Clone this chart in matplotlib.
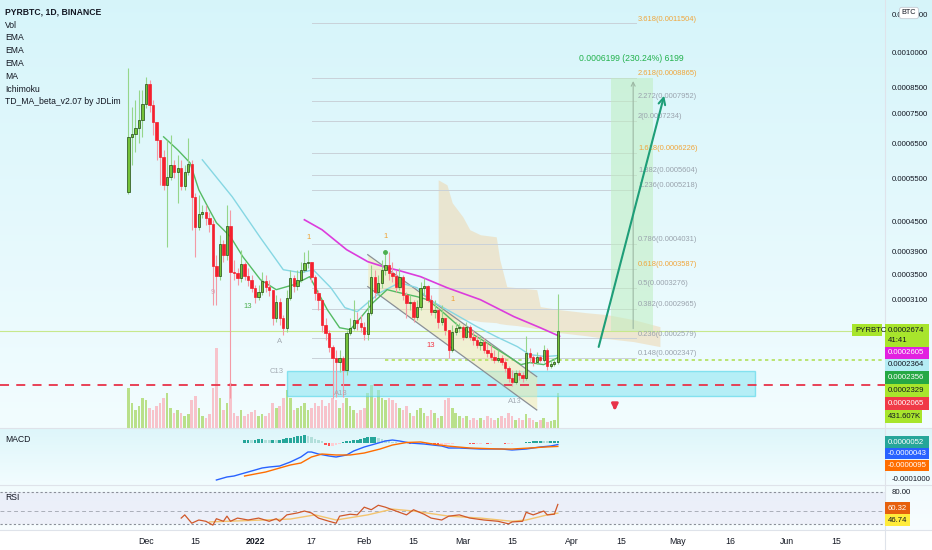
"""PYRBTC 1D (Binance) chart in a TradingView-like style, saved as out.png."""

import numpy as np
import matplotlib

matplotlib.use("Agg")
import matplotlib.pyplot as plt
from matplotlib.lines import Line2D
from matplotlib.patches import Rectangle

plt.rcParams["font.family"] = ["Liberation Sans", "DejaVu Sans"]

W, H = 932, 550
SCALE = 1e-7  # prices and indicator values below are in units of 1e-7 BTC

# ---------------------------------------------------------------- candles
# one candle per day, day 0 = 1 Dec 2021, first candle 26 Nov 2021
first_day = -5
first_open = 5173
closes = [
    6714, 6810, 7006, 7277, 7851, 8632, 7814, 7209, 6619, 6106,
    5347, 5554, 5879, 5687, 5795, 5322, 5687, 5907, 5051, 4381,
    4660, 4704, 4572, 4444, 3642, 3474, 4042, 3837, 4402, 3539,
    3523, 3440, 3676, 3474, 3408, 3281, 3144, 3219, 3392, 3297,
    3250, 2846, 3070, 2846, 2713, 3128, 3440, 3312, 3408, 3573,
    3694, 3712, 3457, 3204, 3099, 2753, 2650, 2480, 2354, 2310,
    2354, 2224, 2650, 2713, 2819, 2779, 2727, 2637, 2914, 3457,
    3219, 3360, 3573, 3659, 3523, 3474, 3297, 3457, 3174, 3056,
    3070, 2860, 2999, 3281, 3312, 3099, 2928, 2956, 2793, 2846,
    2688, 2445, 2663, 2713, 2727, 2600, 2727, 2600, 2564, 2504,
    2540, 2445, 2411, 2366, 2332, 2354, 2310, 2245, 2141, 2101,
    2193, 2172, 2141, 2411, 2366, 2310, 2366, 2332, 2445, 2266,
    2288, 2310, 2674,
]
highs = [
    9313, 7740, 8001, 8390, 8390, 8924, 8798, 8001, 7209, 6619,
    6312, 6619, 6778, 6020, 6164, 6020, 5879, 6682, 6020, 5147,
    5099, 4863, 4863, 4704, 4529, 3837, 4218, 4120, 4863, 4749,
    3747, 3607, 3929, 3712, 3607, 3490, 3328, 3328, 3539, 3490,
    3408, 3250, 3174, 3128, 2887, 3250, 3573, 3490, 3573, 3712,
    3892, 3929, 3712, 3490, 3250, 3099, 2846, 2688, 2504, 2445,
    2445, 2377, 2688, 2846, 3099, 2928, 2887, 2793, 3099, 3659,
    3573, 3490, 3747, 3892, 3892, 3712, 3573, 3607, 3490, 3219,
    3174, 3099, 3099, 3376, 3440, 3328, 3174, 3099, 2984, 3027,
    2846, 2688, 2753, 2793, 2779, 2753, 2793, 2753, 2688, 2625,
    2625, 2588, 2528, 2504, 2445, 2445, 2388, 2354, 2266, 2224,
    2224, 2224, 2203, 2613, 2468, 2388, 2422, 2388, 2504, 2468,
    2332, 2354, 3189,
]
lows = [
    5123, 5879, 6253, 6525, 6714, 7703, 7559, 6778, 6020, 5347,
    5222, 3985, 5475, 5527, 4909, 5222, 5222, 5607, 4320, 3801,
    4320, 4572, 4423, 4279, 3027, 3027, 3408, 3712, 3747, 1947,
    3408, 3328, 3376, 3408, 3312, 3219, 3056, 3099, 3174, 3219,
    3159, 2753, 2793, 2753, 2625, 2663, 3099, 3219, 3250, 3376,
    3539, 3607, 3376, 3099, 2956, 2663, 2564, 2422, 1947, 1956,
    2203, 1956, 2172, 2625, 2688, 2688, 2663, 2564, 2564, 2887,
    3128, 3174, 3281, 3490, 3408, 3376, 3219, 3250, 3099, 2846,
    2956, 2793, 2819, 2956, 3174, 3070, 2887, 2846, 2713, 2753,
    2625, 2354, 2422, 2625, 2663, 2564, 2588, 2564, 2504, 2468,
    2445, 2411, 2366, 2332, 2299, 2310, 2277, 2203, 2101, 2061,
    2081, 2121, 2101, 2121, 2310, 2266, 2288, 2310, 2310, 2224,
    2245, 2266, 2288,
]
volume_k = [
    496, 310, 223, 273, 372, 347, 248, 223, 273, 310,
    372, 434, 248, 186, 223, 186, 149, 174, 347, 397,
    248, 149, 124, 174, 496, 992, 372, 223, 310, 558,
    186, 149, 223, 149, 174, 198, 223, 149, 174, 149,
    186, 310, 248, 273, 372, 471, 372, 223, 248, 273,
    310, 223, 248, 310, 273, 347, 273, 310, 372, 347,
    248, 310, 372, 273, 223, 186, 223, 248, 434, 533,
    372, 471, 372, 347, 372, 347, 310, 248, 223, 273,
    186, 149, 223, 248, 186, 149, 223, 186, 124, 149,
    347, 372, 248, 186, 149, 124, 149, 99, 124, 99,
    124, 99, 149, 124, 99, 124, 149, 124, 186, 149,
    99, 124, 99, 174, 124, 99, 74, 99, 124, 74,
    87, 99, 432,
]

# ---------------------------------------------------------------- overlays
td_ma_days = [5, 9, 12.5, 15, 18, 20, 24, 27.5, 32.5, 37, 42, 46.5, 51.5, 55, 58,
              61, 64.5, 68.5, 72, 77, 80, 84.5, 89, 94, 98.5, 103.5, 106.5, 109, 113, 117]
td_ma_vals = [6714, 6312, 5935, 5222, 4749, 4466, 4178, 3801, 3408, 3250, 3328, 3457, 2956, 2713, 2688,
              2846, 3056, 3250, 3204, 3144, 3099, 2914, 2727, 2600, 2480, 2354, 2277, 2299, 2277, 2354]
ema_days = [16, 24.5, 32.5, 39, 44, 47.5, 52.5, 56.5, 60, 63, 66.5, 72, 77, 80.5,
            86.5, 94, 99.5, 105.5, 109, 113.5, 117]
ema_vals = [6020, 5051, 4159, 3573, 3523, 3573, 3281, 2984, 2928, 3056, 3204, 3360, 3281, 3099,
            2928, 2727, 2600, 2480, 2388, 2366, 2377]
ma_days = [45, 50, 53.5, 57, 63, 67.5, 72, 78, 85.5, 95, 104.5, 112, 117.5]
ma_vals = [4529, 4320, 4120, 3929, 3712, 3624, 3557, 3457, 3281, 3099, 2860, 2713, 2605]

channel_days = [63, 111]
channel_top = [3837, 2151]
channel_bottom = [3297, 1836]

cloud_days = [83, 85.5, 87, 90, 92, 95, 99.5, 100.5, 102.5, 105.5, 111, 112, 117.5, 125, 131, 138.5, 146]
cloud_top = [5475, 5347, 4909, 4594, 4320, 4218, 4178, 3747, 3297, 3281, 3250, 2999, 2956, 2914,
             2887, 2819, 2727]
cloud_bottom = [2846, 2832, 2832, 2819, 2819, 2793, 2779, 2766, 2753, 2740, 2701, 2701, 2650, 2612,
                2576, 2540, 2480]

fib_ratios = ["0.148", "0.236", "0.382", "0.5", "0.618", "0.786", "1.236", "1.382",
              "1.618", "2", "2.272", "2.618", "3.618"]
fib_prices = [2347, 2579, 2965, 3276, 3587, 4031, 5218, 5604, 6226, 7234, 7952, 8865, 11504]
fib_start, fib_end = 47.2, 139.2

target_low, target_high = 2666, 8865
support_low, support_high = 1966, 2214
support_line = 2065
ray_price = 2329
last_price = 2674

td_days = [29, 19, 38, 37, 55.4, 104.8, 81, 46.3, 68.2, 87.2]
td_prices = [2999, 3204, 2540, 2203, 1984, 1911, 2492, 4159, 4179, 3099]
td_texts = ["13", "9", "A", "C13", "A13", "A13", "13", "1", "1", "1"]
td_colors = ["#4caf50", "#d9a3b4", "#a3abb3", "#a3abb3", "#a3abb3", "#a3abb3",
             "#f23645", "#f0a030", "#f0a030", "#f0a030"]

# ---------------------------------------------------------------- MACD / RSI
macd_days = [20, 22, 23, 25, 27, 29, 31, 33, 35, 38, 41, 44, 46, 47, 49, 52, 54, 57, 59, 62,
             65, 68, 70, 72, 75, 79, 84, 86, 89, 95, 101, 104, 108, 112, 115, 117]
macd_vals = [-1028, -972, -944, -917, -861, -806, -750, -694, -667, -639, -528, -389, -250, -250,
             -306, -361, -389, -333, -222, -111, -28, 56, 83, 56, 0, -28, -83, -139, -139, -167,
             -167, -194, -167, -111, -83, -43]
signal_days = [28, 31, 34, 38, 41, 44, 47, 50, 54, 58, 62, 66.5, 70, 74, 78, 81.5, 85.5, 92,
               100.5, 104, 109, 113.5, 117]
signal_vals = [-917, -861, -806, -694, -611, -556, -389, -306, -333, -333, -278, -167, -56, 14,
               28, -28, -83, -139, -167, -167, -139, -111, -95]
hist_first_day = 28
hist_vals = [
    83, 83, 70, 97, 111, 111, 97, 83, 97, 70,
    70, 111, 139, 153, 167, 195, 208, 222, 195, 167,
    125, 83, 42, -42, -70, -70, -56, -22, 28, 42,
    56, 70, 83, 125, 153, 167, 167, 167, 153, 125,
    97, 70, 33, 22, 14, 8, -8, -14, 11, 14,
    8, -8, -17, -33, -56, -70, -70, -56, -33, -17,
    -8, 8, 14, -8, -14, -28, -28, -17, -11, -28,
    -17, -8, 6, -8, -28, -28, -17, -6, 8, 14,
    28, 33, 42, 42, 50, 44, 42, 50, 50, 52,
]

rsi_days = [10, 11, 13, 15, 17, 19, 20, 22, 23, 24, 26, 29, 32, 35, 37, 38, 40, 43, 45, 47,
            49, 52, 54, 55, 58, 60, 62, 64, 66, 68, 70, 72, 74, 76, 79, 81, 84, 86, 89, 92,
            96, 100, 103, 104, 107, 108, 110, 113, 114, 116, 117]
rsi_vals = [39, 44, 31, 36, 34, 28, 38, 34, 42, 34, 39, 36, 39, 34, 38, 34, 44, 47, 50, 47,
            39, 34, 31, 42, 45, 44, 56, 52, 59, 56, 52, 48, 44, 52, 45, 39, 36, 42, 44, 39,
            36, 34, 30, 33, 34, 48, 44, 50, 44, 45, 60.3]
rsi_ma_days = [18, 41, 48, 54, 63, 70, 76, 86, 95, 104, 108, 114, 117]
rsi_ma_vals = [33, 37.5, 44, 36, 44, 53, 50, 42, 39, 34, 36, 44, 46.7]

tick_days = [0, 14, 31, 47, 62, 76, 90, 104, 121, 135, 151, 166, 182, 196]
tick_labels = ["Dec", "15", "2022", "17", "Feb", "15", "Mar", "15", "Apr", "15", "May", "16", "Jun", "15"]
price_ticks = [12000, 10000, 8500, 7500, 6500, 5500, 4500, 3900, 3500, 3100]

TEXT = "#131722"
AXIS_FS = 5.6
X_LIM = (-146 / 3.52, (885 - 146) / 3.52)


def fx(px):
    return px / W


def fy(py):
    return 1 - py / H


def p(values):
    return np.asarray(values, dtype=float) * SCALE


def side_label(fig, y0, y1, text, face, color, x0=885, x1=929):
    fig.add_artist(Rectangle((fx(x0), fy(y1)), fx(x1) - fx(x0), (y1 - y0) / H,
                             transform=fig.transFigure, facecolor=face, edgecolor="none", zorder=10))
    if text:
        fig.text(fx(x0 + 3), fy((y0 + y1) / 2), text, color=color, fontsize=AXIS_FS,
                 va="center", ha="left", zorder=11)


def gradient(fig):
    img = np.ones((H, 1, 3))
    segments = [
        (0, 428, (0.84, 0.96, 0.98), (0.95, 0.99, 1.0)),
        (428, 485, (0.87, 0.965, 0.98), (0.95, 0.99, 1.0)),
        (485, 530, (0.95, 0.985, 0.995), (0.97, 0.99, 1.0)),
    ]
    for r0, r1, c0, c1 in segments:
        t = np.linspace(0, 1, r1 - r0)[:, None]
        img[r0:r1, 0, :] = np.array(c0) * (1 - t) + np.array(c1) * t
    bg = fig.add_axes([0, 0, 1, 1], zorder=-5)
    bg.imshow(img, aspect="auto", extent=(0, 1, 0, 1))
    bg.set_axis_off()


def bare(a):
    a.set_xlim(*X_LIM)
    a.patch.set_visible(False)
    for s in a.spines.values():
        s.set_visible(False)


def main():
    n = len(closes)
    assert len(highs) == n and len(lows) == n and len(volume_k) == n
    assert len(hist_vals) == 117 - hist_first_day + 1

    fig = plt.figure(figsize=(W / 100, H / 100), dpi=100)
    gradient(fig)

    rect_main = [0, fy(428), fx(885), 428 / H]
    vax = fig.add_axes(rect_main, zorder=1)
    ax = fig.add_axes(rect_main, zorder=2)
    bare(vax)
    bare(ax)

    days = first_day + np.arange(n)
    c = p(closes)
    o = p([first_open] + closes[:-1])
    hi, lo = p(highs), p(lows)
    up = c >= o

    # volume
    vax.bar(days, volume_k, width=0.72, color=np.where(up, "#b9e08a", "#f7c3cb"))
    vax.set_ylim(0, 5300)
    vax.set_xticks([])
    vax.set_yticks([])

    # price pane
    ax.set_yscale("log")
    ax.set_ylim(0.00016854, 0.0012855)
    ax.yaxis.tick_right()
    ax.yaxis.set_minor_locator(matplotlib.ticker.NullLocator())
    ax.set_yticks(p(price_ticks))
    ax.set_yticklabels([f"{v * SCALE:.7f}" for v in price_ticks])
    ax.tick_params(axis="y", length=0, pad=5, labelsize=AXIS_FS, labelcolor=TEXT)
    ax.set_xticks([])

    # ichimoku cloud
    ax.fill_between(cloud_days, p(cloud_bottom), p(cloud_top), color="#efd3a6", alpha=0.5, lw=0, zorder=1)

    # fibonacci extension
    for ratio, price in zip(fib_ratios, fib_prices):
        ax.plot([fib_start, fib_end], [price * SCALE] * 2, color="#c9d1d8", lw=0.7, zorder=1)
        col = "#f0a53a" if ratio in ("0.618", "1.618", "2.618", "3.618") else "#9aa3ad"
        ax.text(fib_end + 0.6, price * SCALE * 1.004, f"{ratio}({price * SCALE:.7f})",
                color=col, fontsize=5.4, va="bottom", ha="left", zorder=3)

    # long-position target zone
    ax.add_patch(Rectangle((132.1, target_low * SCALE), 11.9, (target_high - target_low) * SCALE,
                           facecolor="#bfeebf", alpha=0.55, edgecolor="none", zorder=1))
    ax.annotate("", xy=(138.4, target_high * SCALE), xytext=(138.4, target_low * SCALE),
                arrowprops=dict(arrowstyle="->", color="#9db8a4", lw=0.8, mutation_scale=7), zorder=2)
    ax.text(138.0, 0.000972, "0.0006199 (230.24%) 6199", color="#22b14c", fontsize=6.2,
            ha="center", va="center", zorder=3)

    # support zone and levels
    ax.add_patch(Rectangle((40.1, support_low * SCALE), 132.9, (support_high - support_low) * SCALE,
                           facecolor="#8fe6f2", alpha=0.6, edgecolor="#4fd5e8", lw=1.0, zorder=2))
    ax.axhline(support_line * SCALE, color="#e8334a", lw=1.3, ls=(0, (5, 4)), zorder=3)
    ax.plot([68, X_LIM[1]], [ray_price * SCALE] * 2, color="#b3e05a", lw=1.2, ls=(0, (2, 2)), zorder=3)
    ax.axhline(last_price * SCALE, color="#c7e88c", lw=0.8, zorder=1)

    # descending channel
    ax.fill_between(channel_days, p(channel_bottom), p(channel_top), color="#f6e6a0", alpha=0.45,
                    lw=0, zorder=2)
    ax.plot(channel_days, p(channel_top), color="#8a8f96", lw=0.9, zorder=3)
    ax.plot(channel_days, p(channel_bottom), color="#8a8f96", lw=0.9, zorder=3)

    # moving averages
    ax.plot(ema_days, p(ema_vals), color="#86d7e3", lw=1.0, zorder=4)
    ax.plot(td_ma_days, p(td_ma_vals), color="#55bb63", lw=1.0, zorder=4)
    ax.plot(ma_days, p(ma_vals), color="#dc3cdc", lw=1.2, zorder=4)

    # candles
    ax.vlines(days, lo, hi, colors=np.where(up, "#95d68a", "#f49aa5"), lw=0.8, zorder=5)
    ax.bar(days, np.maximum(np.abs(c - o), 1e-7 * 0.5), bottom=np.minimum(o, c), width=0.66,
           color=np.where(up, "#74c23a", "#f5202e"), edgecolor=np.where(up, "#1f4a12", "#f5202e"),
           linewidth=0.5, zorder=6)

    # TD sequential marks
    for d, pr, t, col in zip(td_days, td_prices, td_texts, td_colors):
        ax.text(d, pr * SCALE, t, color=col, fontsize=5.5, ha="center", va="center", zorder=7)
    ax.plot([67.9], [0.0003892], "o", ms=2.5, color="#4caf50", zorder=7)

    # projection arrows
    ax.annotate("", xy=(147.4, 0.000827), xytext=(128.4, 0.0002445),
                arrowprops=dict(arrowstyle="->", color="#1e9e78", lw=1.5, mutation_scale=12), zorder=8)
    ax.annotate("", xy=(133.2, 0.0001805), xytext=(133.2, 0.0001905),
                arrowprops=dict(arrowstyle="-|>", color="#e8334a", lw=2, mutation_scale=9), zorder=8)

    # MACD pane
    mx = fig.add_axes([0, fy(485), fx(885), 57 / H])
    bare(mx)
    mx.set_ylim(-1167 * SCALE, 417 * SCALE)
    hist_days = hist_first_day + np.arange(len(hist_vals))
    hist_cols = []
    prev = hist_vals[0]
    for v in hist_vals:
        if v >= 0:
            hist_cols.append("#26a69a" if v >= prev else "#b2dfdb")
        else:
            hist_cols.append("#ff5252" if v < prev else "#ffcdd2")
        prev = v
    mx.bar(hist_days, p(hist_vals), width=0.75, color=hist_cols)
    mx.plot(macd_days, p(macd_vals), color="#2962ff", lw=1.0)
    mx.plot(signal_days, p(signal_vals), color="#ff6d00", lw=1.0)
    mx.set_xticks([])
    mx.yaxis.tick_right()
    mx.set_yticks([-1000 * SCALE])
    mx.set_yticklabels(["-0.0001000"])
    mx.tick_params(axis="y", length=0, pad=5, labelsize=AXIS_FS, labelcolor=TEXT)

    # RSI pane
    rx = fig.add_axes([0, fy(530), fx(885), 45 / H])
    bare(rx)
    rx.set_ylim(20.4, 90.6)
    rx.axhspan(30, 80, color="#7e57c2", alpha=0.07, lw=0)
    rx.axhline(80, color="#8a8f99", lw=0.8, ls=(0, (2, 2)))
    rx.axhline(50, color="#a9afb8", lw=0.7, ls=(0, (4, 3)))
    rx.axhline(30, color="#8a8f99", lw=0.8, ls=(0, (2, 2)))
    rx.plot(rsi_ma_days, rsi_ma_vals, color="#f3c46e", lw=1.0)
    rx.plot(rsi_days, rsi_vals, color="#d0582a", lw=0.9)
    rx.yaxis.tick_right()
    rx.set_yticks([80])
    rx.set_yticklabels(["80.00"])
    rx.tick_params(axis="y", length=0, pad=5, labelsize=AXIS_FS, labelcolor=TEXT)
    rx.set_xticks(tick_days)
    rx.set_xticklabels(tick_labels)
    rx.tick_params(axis="x", length=0, pad=5, labelsize=6.3, labelcolor=TEXT)
    rx.get_xticklabels()[2].set_fontweight("bold")

    # pane separators
    for yy in (428, 485, 530):
        fig.add_artist(Line2D([0, 1], [fy(yy)] * 2, transform=fig.transFigure, color="#dfe3ea", lw=0.8))
    fig.add_artist(Line2D([fx(885)] * 2, [0, 1], transform=fig.transFigure, color="#dfe3ea", lw=0.8))

    # legend text
    fig.text(fx(5), fy(12), "PYRBTC, 1D, BINANCE", fontsize=6.2, fontweight="bold", color=TEXT, va="center")
    for k, name in enumerate(["Vol", "EMA", "EMA", "EMA", "MA", "Ichimoku", "TD_MA_beta_v2.07 by JDLim"]):
        fig.text(fx(5), fy(25 + 12.8 * k), name, fontsize=6.2, color=TEXT, va="center")
    fig.text(fx(5), fy(440), "MACD", fontsize=6.2, color=TEXT, va="center")
    fig.text(fx(5), fy(497), "RSI", fontsize=6.2, color=TEXT, va="center")

    fig.text(fx(909), fy(13), "BTC", fontsize=5.2, color=TEXT, ha="center", va="center", zorder=12,
             bbox=dict(boxstyle="round,pad=0.3", fc="white", ec="#c5cbd3", lw=0.6))

    # price scale labels
    lime = "#a8e52c"
    side_label(fig, 324, 336, "PYRBTC", lime, TEXT, x0=852, x1=882)
    side_label(fig, 324, 347, "", lime, TEXT)
    fig.text(fx(888), fy(330), "0.0002674", color=TEXT, fontsize=AXIS_FS, va="center", zorder=11)
    fig.text(fx(888), fy(341), "41:41", color=TEXT, fontsize=AXIS_FS, va="center", zorder=11)
    side_label(fig, 347, 359, "0.0002605", "#e21fe0", "white")
    side_label(fig, 359, 371, "0.0002364", "#b4ecf4", TEXT)
    side_label(fig, 371, 384, "0.0002356", "#25a844", "white")
    side_label(fig, 384, 397, "0.0002329", lime, TEXT)
    side_label(fig, 397, 410, "0.0002065", "#f03a47", "white")
    side_label(fig, 410, 423, "431.607K", lime, TEXT, x1=922)
    side_label(fig, 436, 448, "0.0000052", "#26a69a", "white")
    side_label(fig, 448, 459, "-0.0000043", "#2962ff", "white")
    side_label(fig, 460, 471, "-0.0000095", "#ff6d00", "white")
    side_label(fig, 502, 514, "60.32", "#e6600d", "white", x1=910)
    side_label(fig, 514, 526, "46.74", "#ffeb3b", TEXT, x1=910)

    fig.savefig("out.png", dpi=100)
    plt.close(fig)


if __name__ == "__main__":
    main()
